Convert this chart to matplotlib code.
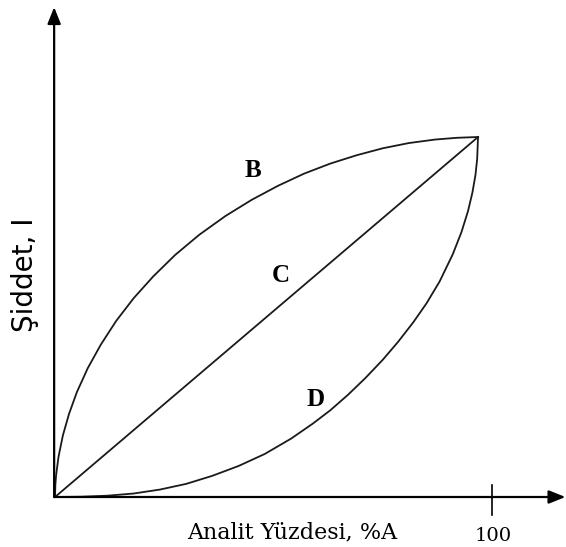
import matplotlib
matplotlib.use("Agg")
import matplotlib.pyplot as plt

# okunan noktalar (x: analit yuzdesi, y: siddet)
b_x = [0, 0.08, 0.25, 0.8, 1.8, 3.2, 5, 7.5, 10.5, 14, 18, 22.5, 27.5, 33, 39, 45, 51,
       57, 63, 69, 75, 81, 87, 92, 96.8]
b_y = [0, 2.8, 5.0, 9.2, 14.1, 19.0, 24.0, 29.5, 34.9, 40.3, 45.5, 50.5, 55.4, 60.0, 64.3,
       68.0, 71.2, 74.0, 76.3, 78.2, 79.8, 81.0, 81.8, 82.2, 82.38]

c_x = [0, 96.8]
c_y = [0, 82.38]

d_x = [0, 6, 12, 18, 24, 30, 36, 42, 48, 54, 59, 63, 67, 71, 75, 78.5, 82, 85, 88, 91,
       93, 94.5, 95.5, 96.2, 96.6, 96.8]
d_y = [0, 0.07, 0.3, 0.8, 1.7, 3.0, 4.85, 7.1, 9.85, 13.35, 16.8, 19.85, 23.35, 27.2, 31.4,
       35.5, 40.0, 44.3, 49.3, 55.5, 60.6, 65.4, 69.6, 73.6, 77.3, 82.38]

etiketler = ["B", "C", "D"]
etiket_x = [45.3, 51.7, 59.7]
etiket_y = [74.8, 50.8, 22.2]

fig = plt.figure(figsize=(5.66, 5.47), dpi=100)
ax = fig.add_axes([0, 0, 1, 1])
ax.set_xlim(-12.59, 116.93)
ax.set_ylim(-11.44, 113.73)
ax.axis("off")

# eksenler (oklu)
ok = dict(arrowstyle="-|>,head_length=1.0,head_width=0.4", color="black", lw=1.6,
          shrinkA=0, shrinkB=0)
ax.annotate("", xy=(-0.2, 112.1), xytext=(-0.2, 0), arrowprops=ok)
ax.annotate("", xy=(116.8, 0), xytext=(-0.2, 0), arrowprops=ok)
ax.plot([100, 100], [-4.1, 2.7], color="black", lw=1.2)

for xs, ys in [(b_x, b_y), (c_x, c_y), (d_x, d_y)]:
    ax.plot(xs, ys, color="#1a1a1a", lw=1.3, solid_joinstyle="round")

for t, x, y in zip(etiketler, etiket_x, etiket_y):
    ax.text(x, y, t, fontsize=18, fontweight="bold", family="Liberation Serif",
            ha="center", va="center")

ax.text(54.2, -8.2, "Analit Yüzdesi, %A", fontsize=16, family="DejaVu Serif",
        ha="center", va="center")
ax.text(100.2, -8.9, "100", fontsize=14, family="DejaVu Serif", ha="center", va="center")
ax.text(-6.9, 50.8, "Şiddet, I", fontsize=20, family="DejaVu Sans", rotation=90,
        ha="center", va="center")

fig.savefig("out.png", dpi=100)
